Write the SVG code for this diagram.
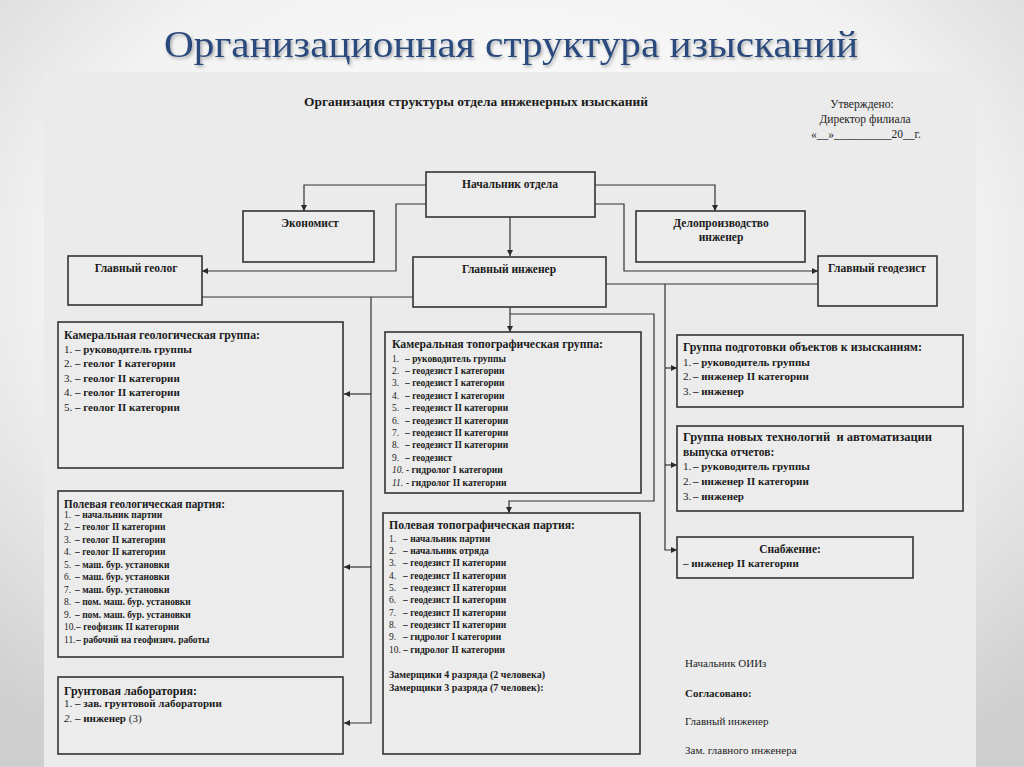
<svg xmlns="http://www.w3.org/2000/svg" width="1024" height="767" viewBox="0 0 1024 767">
<defs>
<radialGradient id="bg" cx="0.5" cy="0.35" r="0.75">
<stop offset="0" stop-color="#ffffff"/>
<stop offset="0.6" stop-color="#f2f2f2"/>
<stop offset="1" stop-color="#cfcfcf"/>
</radialGradient>
<filter id="sh" x="-5%" y="-20%" width="110%" height="150%">
<feDropShadow dx="1.5" dy="2" stdDeviation="1.5" flood-color="#000" flood-opacity="0.3"/>
</filter>
<marker id="ar" markerUnits="userSpaceOnUse" markerWidth="7" markerHeight="7" refX="6" refY="3" orient="auto">
<path d="M0,0 L6,3 L0,6 z" fill="#2a2a2a"/>
</marker>
<style>
.box{fill:#ececec;stroke:#333;stroke-width:1.6}
.ln{fill:none;stroke:#333;stroke-width:1.2}
.ar{marker-end:url(#ar)}
text{font-family:"Liberation Serif","DejaVu Serif",serif;fill:#1b1b1b}
.b{font-weight:bold}
.c{text-anchor:middle}
.h{font-size:11.5px;font-weight:bold}
.i{font-size:11px;font-weight:bold}
.s{font-size:9.5px;font-weight:bold}
.n{font-weight:normal}
.it{font-style:italic;font-weight:normal}
.r{font-size:11px}
</style>
</defs>
<rect x="0" y="0" width="1024" height="767" fill="url(#bg)"/>
<rect x="44" y="72" width="932" height="700" fill="#ebebeb"/>
<text x="511" y="57" class="c" style="font-size:37px;fill:#2b4a7b" textLength="694" lengthAdjust="spacingAndGlyphs" filter="url(#sh)">Организационная структура изысканий</text>

<g id="doc-header">
<text x="476" y="106" class="c b" style="font-size:12.5px" textLength="344" lengthAdjust="spacingAndGlyphs">Организация структуры отдела инженерных изысканий</text>
<text x="862" y="108" class="c" style="font-size:11.5px">Утверждено:</text>
<text x="865" y="123" class="c" style="font-size:11.5px">Директор филиала</text>
<text x="866" y="138" class="c" style="font-size:11.5px">«__»__________20__г.</text>
</g>

<g id="connectors">
<path class="ln ar" d="M426,185 H304 V211"/>
<path class="ln ar" d="M426,204 H396 V271 H202"/>
<path class="ln ar" d="M595,185 H715 V211"/>
<path class="ln ar" d="M595,204 H624 V271 H818"/>
<path class="ln ar" d="M510,217 V256"/>
<path class="ln" d="M202,297 H413"/>
<path class="ln ar" d="M371,297 V723 H344"/>
<path class="ln ar" d="M371,394 H344"/>
<path class="ln ar" d="M371,567 H344"/>
<path class="ln" d="M606,284 H818"/>
<path class="ln ar" d="M665,284 V550 H677"/>
<path class="ln ar" d="M665,368 H677"/>
<path class="ln ar" d="M665,465 H677"/>
<path class="ln ar" d="M510,307 V332"/>
<path class="ln ar" d="M510,314 H654 V501 H509 V513"/>
</g>

<g id="n-nachalnik">
<rect class="box" x="426" y="172" width="169" height="45"/>
<text x="510" y="188" class="c b" style="font-size:11.5px">Начальник отдела</text>
</g>
<g id="n-ekonomist">
<rect class="box" x="243" y="211" width="131" height="51"/>
<text x="310" y="227" class="c b" style="font-size:11.5px">Экономист</text>
</g>
<g id="n-delo">
<rect class="box" x="636" y="211" width="169" height="51"/>
<text x="721" y="227" class="c b" style="font-size:11.5px">Делопроизводство</text>
<text x="721" y="241" class="c b" style="font-size:11.5px">инженер</text>
</g>
<g id="n-geolog">
<rect class="box" x="68" y="256" width="134" height="49"/>
<text x="136" y="272" class="c b" style="font-size:11.5px">Главный геолог</text>
</g>
<g id="n-inzhener">
<rect class="box" x="413" y="257" width="193" height="50"/>
<text x="509" y="273" class="c b" style="font-size:11.5px">Главный инженер</text>
</g>
<g id="n-geodezist">
<rect class="box" x="818" y="256" width="119" height="50"/>
<text x="877" y="272" class="c b" style="font-size:11.5px">Главный геодезист</text>
</g>

<g id="n-kam-geo">
<rect class="box" x="58" y="322" width="285" height="146"/>
<text x="64" y="339" class="h" textLength="196" lengthAdjust="spacingAndGlyphs">Камеральная геологическая группа:</text>
<text class="i" y="353"><tspan x="64" class="n">1.</tspan><tspan x="75">– руководитель группы</tspan></text>
<text class="i" y="367"><tspan x="64" class="n">2.</tspan><tspan x="75">– геолог I категории</tspan></text>
<text class="i" y="382"><tspan x="64" class="n">3.</tspan><tspan x="75">– геолог II категории</tspan></text>
<text class="i" y="396"><tspan x="64" class="n">4.</tspan><tspan x="75">– геолог II категории</tspan></text>
<text class="i" y="411"><tspan x="64" class="n">5.</tspan><tspan x="75">– геолог II категории</tspan></text>
</g>

<g id="n-pol-geo">
<rect class="box" x="58" y="491" width="285" height="166"/>
<text x="64" y="508" class="h" textLength="161" lengthAdjust="spacingAndGlyphs">Полевая геологическая партия:</text>
<text class="s" y="517.5"><tspan x="64" class="n">1.</tspan><tspan x="75">– начальник партии</tspan></text>
<text class="s" y="530"><tspan x="64" class="n">2.</tspan><tspan x="75">– геолог II категории</tspan></text>
<text class="s" y="542.5"><tspan x="64" class="n">3.</tspan><tspan x="75">– геолог II категории</tspan></text>
<text class="s" y="555"><tspan x="64" class="n">4.</tspan><tspan x="75">– геолог II категории</tspan></text>
<text class="s" y="567.5"><tspan x="64" class="n">5.</tspan><tspan x="75">– маш. бур. установки</tspan></text>
<text class="s" y="580"><tspan x="64" class="n">6.</tspan><tspan x="75">– маш. бур. установки</tspan></text>
<text class="s" y="592.5"><tspan x="64" class="n">7.</tspan><tspan x="75">– маш. бур. установки</tspan></text>
<text class="s" y="605"><tspan x="64" class="n">8.</tspan><tspan x="75">– пом. маш. бур. установки</tspan></text>
<text class="s" y="617.5"><tspan x="64" class="n">9.</tspan><tspan x="75">– пом. маш. бур. установки</tspan></text>
<text class="s" y="630"><tspan x="64" class="n">10.</tspan><tspan x="76">– геофизик II категории</tspan></text>
<text class="s" y="642.5"><tspan x="64" class="n">11.</tspan><tspan x="76">– рабочий на геофизич. работы</tspan></text>
</g>

<g id="n-grunt">
<rect class="box" x="58" y="677" width="285" height="77"/>
<text x="64" y="695" class="h" textLength="133" lengthAdjust="spacingAndGlyphs">Грунтовая лаборатория:</text>
<text class="i" y="707"><tspan x="64" class="n">1.</tspan><tspan x="75">– зав. грунтовой лаборатории</tspan></text>
<text class="i" y="722"><tspan x="64" class="it">2.</tspan><tspan x="75">– инженер <tspan class="n">(3)</tspan></tspan></text>
</g>

<g id="n-kam-topo">
<rect class="box" x="385" y="332" width="256" height="161"/>
<text x="392" y="348" class="h" textLength="211" lengthAdjust="spacingAndGlyphs">Камеральная топографическая группа:</text>
<text class="s" y="361.5"><tspan x="392" class="n">1.</tspan><tspan x="405">– руководитель группы</tspan></text>
<text class="s" y="373.9"><tspan x="392" class="n">2.</tspan><tspan x="405">– геодезист I категории</tspan></text>
<text class="s" y="386.3"><tspan x="392" class="n">3.</tspan><tspan x="405">– геодезист I категории</tspan></text>
<text class="s" y="398.7"><tspan x="392" class="n">4.</tspan><tspan x="405">– геодезист I категории</tspan></text>
<text class="s" y="411.1"><tspan x="392" class="n">5.</tspan><tspan x="405">– геодезист II категории</tspan></text>
<text class="s" y="423.5"><tspan x="392" class="n">6.</tspan><tspan x="405">– геодезист II категории</tspan></text>
<text class="s" y="435.9"><tspan x="392" class="n">7.</tspan><tspan x="405">– геодезист II категории</tspan></text>
<text class="s" y="448.3"><tspan x="392" class="n">8.</tspan><tspan x="405">– геодезист II категории</tspan></text>
<text class="s" y="460.7"><tspan x="392" class="n">9.</tspan><tspan x="405">– геодезист</tspan></text>
<text class="s" y="473.1"><tspan x="392" class="it">10.</tspan><tspan x="406">- гидролог I категории</tspan></text>
<text class="s" y="485.5"><tspan x="392" class="it">11.</tspan><tspan x="406">- гидролог II категории</tspan></text>
</g>

<g id="n-pol-topo">
<rect class="box" x="383" y="513" width="257" height="241"/>
<text x="389" y="529" class="h" textLength="186" lengthAdjust="spacingAndGlyphs">Полевая топографическая партия:</text>
<text class="s" y="541.5"><tspan x="389" class="n">1.</tspan><tspan x="403">– начальник партии</tspan></text>
<text class="s" y="553.8"><tspan x="389" class="n">2.</tspan><tspan x="403">– начальник отряда</tspan></text>
<text class="s" y="566.2"><tspan x="389" class="n">3.</tspan><tspan x="403">– геодезист II категории</tspan></text>
<text class="s" y="578.5"><tspan x="389" class="n">4.</tspan><tspan x="403">– геодезист II категории</tspan></text>
<text class="s" y="590.8"><tspan x="389" class="n">5.</tspan><tspan x="403">– геодезист II категории</tspan></text>
<text class="s" y="603.2"><tspan x="389" class="n">6.</tspan><tspan x="403">– геодезист II категории</tspan></text>
<text class="s" y="615.5"><tspan x="389" class="n">7.</tspan><tspan x="403">– геодезист II категории</tspan></text>
<text class="s" y="627.8"><tspan x="389" class="n">8.</tspan><tspan x="403">– геодезист II категории</tspan></text>
<text class="s" y="640.2"><tspan x="389" class="n">9.</tspan><tspan x="403">– гидролог I категории</tspan></text>
<text class="s" y="652.5"><tspan x="389" class="n">10.</tspan><tspan x="403">– гидролог II категории</tspan></text>
<text x="389" y="677.5" class="b" style="font-size:10px">Замерщики 4 разряда (2 человека)</text>
<text x="389" y="690.5" class="b" style="font-size:10px">Замерщики 3 разряда (7 человек):</text>
</g>

<g id="n-podgotovka">
<rect class="box" x="677" y="335" width="286" height="72"/>
<text x="683" y="351" class="h" textLength="239" lengthAdjust="spacingAndGlyphs">Группа подготовки объектов к изысканиям:</text>
<text class="i" y="365.5"><tspan x="683" class="n">1.</tspan><tspan x="693">– руководитель группы</tspan></text>
<text class="i" y="380.2"><tspan x="683" class="n">2.</tspan><tspan x="693">– инженер II категории</tspan></text>
<text class="i" y="395"><tspan x="683" class="n">3.</tspan><tspan x="693">– инженер</tspan></text>
</g>

<g id="n-tehnologii">
<rect class="box" x="677" y="426" width="286" height="85"/>
<text x="683" y="441" class="h" textLength="249" lengthAdjust="spacingAndGlyphs" xml:space="preserve">Группа новых технологий  и автоматизации</text>
<text x="683" y="456" class="h">выпуска отчетов:</text>
<text class="i" y="470"><tspan x="683" class="n">1.</tspan><tspan x="693">– руководитель группы</tspan></text>
<text class="i" y="485"><tspan x="683" class="n">2.</tspan><tspan x="693">– инженер II категории</tspan></text>
<text class="i" y="500"><tspan x="683" class="n">3.</tspan><tspan x="693">– инженер</tspan></text>
</g>

<g id="n-snabzhenie">
<rect class="box" x="677" y="537" width="236" height="41"/>
<text x="790" y="553" class="c h">Снабжение:</text>
<text x="683" y="567" class="i">– инженер II категории</text>
</g>

<g id="signatures">
<text x="685" y="667" class="r">Начальник ОИИз</text>
<text x="685" y="697" class="r b">Согласовано:</text>
<text x="685" y="725" class="r">Главный инженер</text>
<text x="685" y="754" class="r">Зам. главного инженера</text>
</g>
</svg>
